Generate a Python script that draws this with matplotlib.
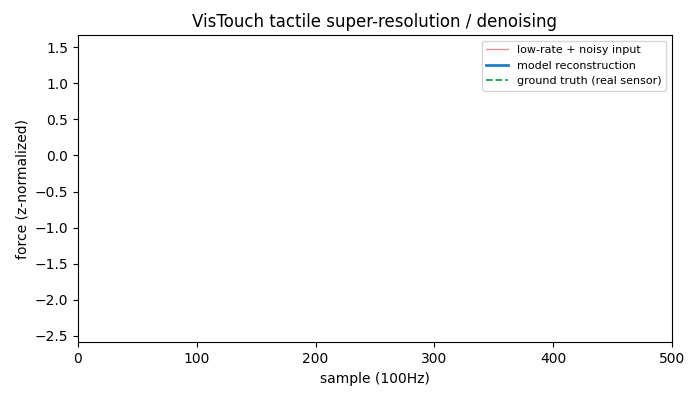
import matplotlib
matplotlib.use("Agg")
import matplotlib.pyplot as plt

# Data (reference frame shows no samples drawn yet)
sample_idx = []
noisy_input = []
reconstruction = []
ground_truth = []

fig, ax = plt.subplots(figsize=(7, 4), dpi=100)
ax.plot(sample_idx, noisy_input, color="#d62728", lw=1.0, alpha=0.5,
        label="low-rate + noisy input")
ax.plot(sample_idx, reconstruction, color="#1f7fc4", lw=2.0,
        label="model reconstruction")
ax.plot(sample_idx, ground_truth, color="#1aa34a", lw=1.3, ls="--",
        label="ground truth (real sensor)")
ax.set_xlim(0, 500)
ax.set_ylim(-2.59, 1.67)
ax.set_title("VisTouch tactile super-resolution / denoising")
ax.set_xlabel("sample (100Hz)")
ax.set_ylabel("force (z-normalized)")
ax.legend(loc="upper right", fontsize=8)
fig.subplots_adjust(left=78/700, right=672/700, top=1-35/400, bottom=1-342.3/400)
fig.savefig("out.png")
